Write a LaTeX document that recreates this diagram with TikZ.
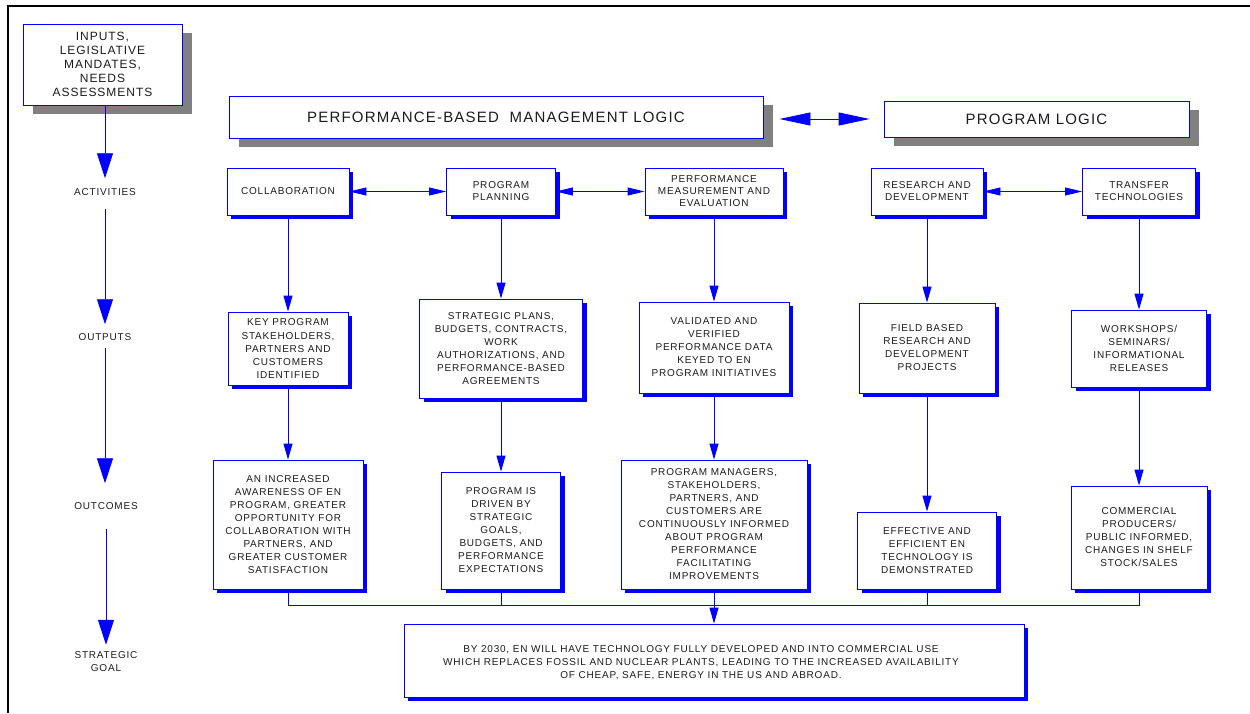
\documentclass[tikz,border=0pt]{standalone}
\usepackage{fontspec}
\setmainfont{Liberation Sans}
\newfontfamily\trackedsans[LetterSpace=8]{Liberation Sans}
\usetikzlibrary{arrows.meta,shadows}
\definecolor{inkgray}{RGB}{28,28,28}
\definecolor{shadowgray}{RGB}{128,128,128}
\newcommand\labfont{\trackedsans\fontsize{10}{13}\selectfont}
\newcommand\actfont{\trackedsans\fontsize{10}{12}\selectfont}
\newcommand\inputfont{\trackedsans\fontsize{12}{14}\selectfont}
\newcommand\headfont{\trackedsans\fontsize{15}{18}\selectfont}

\begin{document}
\begin{tikzpicture}[x=1pt,y=-1pt,
  plainbox/.style={draw=blue, line width=0.9pt, fill=white, inner sep=0pt,
    align=center, text=inkgray, font=\labfont},
  bluebox/.style={plainbox, general shadow={fill=blue, shadow xshift=4pt, shadow yshift=-4pt}},
  graybox/.style={plainbox, general shadow={fill=shadowgray, shadow xshift=10pt, shadow yshift=-8.5pt}},
  actbox/.style={bluebox, font=\actfont, minimum height=47pt},
  sidelabel/.style={inner sep=0pt, align=center, text=inkgray, font=\labfont},
  conn/.style={draw=blue, line width=0.9pt},
  flow/.style={conn, -{Triangle[length=16pt,width=9pt]}},
  pair/.style={conn, {Triangle[length=17pt,width=8pt]}-{Triangle[length=17pt,width=8pt]}},
  stage/.style={conn, -{Triangle[length=25pt,width=16pt]}},
  link/.style={conn, {Triangle[length=31pt,width=13pt]}-{Triangle[length=31pt,width=13pt]}},
]
\useasboundingbox (0,0) rectangle (1250,713);

% outer frame
\draw[line width=2pt, black] (8,713) -- (8,6) -- (1250,6);

% left column: stages
\node[graybox, font=\inputfont, minimum width=159pt, minimum height=81pt] (inputs) at (102.5,64.5)
  {INPUTS,\\LEGISLATIVE\\MANDATES,\\NEEDS\\ASSESSMENTS};
\node[sidelabel] (act) at (105,192) {ACTIVITIES};
\node[sidelabel] (outp) at (105,337) {OUTPUTS};
\node[sidelabel] (outc) at (106,506) {OUTCOMES};
\node[sidelabel] (strat) at (106,662) {STRATEGIC\\GOAL};

\draw[stage, shorten >=10pt] (act |- inputs.south) -- (act.north);
\draw[stage, shorten <=13pt, shorten >=9pt] (act.south) -- (outp.north);
\draw[stage, shorten <=7pt, shorten >=19pt] (outp.south) -- (outp.south |- outc.north);
\draw[stage, shorten <=19pt, shorten >=7pt] (outc.south) -- (strat.north);

% headers
\node[graybox, font=\headfont, minimum width=534pt, minimum height=42pt] (pbml) at (496,117)
  {PERFORMANCE-BASED\ \ MANAGEMENT LOGIC};
\node[graybox, font=\headfont, minimum width=305pt, minimum height=36pt] (pl) at (1036.5,119)
  {PROGRAM LOGIC};
\draw[link, shorten <=16pt, shorten >=14pt] (pbml.east |- pl.west) -- (pl.west);

% activities
\node[actbox, minimum width=122pt] (collab) at (288,191.5) {COLLABORATION};
\node[actbox, minimum width=109pt] (pp) at (501,191.5) {PROGRAM\\PLANNING};
\node[actbox, minimum width=138pt] (pme) at (714,191.5) {PERFORMANCE\\MEASUREMENT AND\\EVALUATION};
\node[actbox, minimum width=112pt] (rd) at (927,191.5) {RESEARCH AND\\DEVELOPMENT};
\node[actbox, minimum width=113pt] (tt) at (1139,191.5) {TRANSFER\\TECHNOLOGIES};

\draw[pair] (collab.east) -- (pp.west);
\draw[pair] (pp.east) -- (pme.west);
\draw[pair] (rd.east) -- (tt.west);

% outputs
\node[bluebox, minimum width=120pt, minimum height=73pt] (key) at (288,348.5)
  {KEY PROGRAM\\STAKEHOLDERS,\\PARTNERS AND\\CUSTOMERS\\IDENTIFIED};
\node[bluebox, minimum width=163pt, minimum height=99pt] (sp) at (501,348.5)
  {STRATEGIC PLANS,\\BUDGETS, CONTRACTS,\\WORK\\AUTHORIZATIONS, AND\\PERFORMANCE-BASED\\AGREEMENTS};
\node[bluebox, minimum width=150pt, minimum height=91pt] (val) at (714,347.5)
  {VALIDATED AND\\VERIFIED\\PERFORMANCE DATA\\KEYED TO EN\\PROGRAM INITIATIVES};
\node[bluebox, minimum width=136pt, minimum height=90pt] (field) at (927,348)
  {FIELD BASED\\RESEARCH AND\\DEVELOPMENT\\PROJECTS};
\node[bluebox, minimum width=135pt, minimum height=77pt] (work) at (1139,348.5)
  {WORKSHOPS/\\SEMINARS/\\INFORMATIONAL\\RELEASES};

\draw[flow] (collab.south) -- (key.north);
\draw[flow] (pp.south) -- (sp.north);
\draw[flow] (pme.south) -- (val.north);
\draw[flow] (rd.south) -- (field.north);
\draw[flow] (tt.south) -- (work.north);

% outcomes
\node[bluebox, minimum width=150pt, minimum height=129pt] (aware) at (288,524.5)
  {AN INCREASED\\AWARENESS OF EN\\PROGRAM, GREATER\\OPPORTUNITY FOR\\COLLABORATION WITH\\PARTNERS, AND\\GREATER CUSTOMER\\SATISFACTION};
\node[bluebox, minimum width=119pt, minimum height=117pt] (driven) at (501,530.5)
  {PROGRAM IS\\DRIVEN BY\\STRATEGIC\\GOALS,\\BUDGETS, AND\\PERFORMANCE\\EXPECTATIONS};
\node[bluebox, minimum width=186pt, minimum height=129pt] (managers) at (714,524.5)
  {PROGRAM MANAGERS,\\STAKEHOLDERS,\\PARTNERS, AND\\CUSTOMERS ARE\\CONTINUOUSLY INFORMED\\ABOUT PROGRAM\\PERFORMANCE\\FACILITATING\\IMPROVEMENTS};
\node[bluebox, minimum width=139pt, minimum height=77pt] (effective) at (927,550.5)
  {EFFECTIVE AND\\EFFICIENT EN\\TECHNOLOGY IS\\DEMONSTRATED};
\node[bluebox, minimum width=136pt, minimum height=103pt] (commercial) at (1139,537.5)
  {COMMERCIAL\\PRODUCERS/\\PUBLIC INFORMED,\\CHANGES IN SHELF\\STOCK/SALES};

\draw[flow] (key.south) -- (aware.north);
\draw[flow] (sp.south) -- (driven.north);
\draw[flow] (val.south) -- (managers.north);
\draw[flow] (field.south) -- (effective.north);
\draw[flow] (work.south) -- (commercial.north);

% strategic goal
\node[bluebox, minimum width=620pt, minimum height=73pt] (goal) at (714,660.5) {};
\node[sidelabel] (goaltext) at (701,663)
  {BY 2030, EN WILL HAVE TECHNOLOGY FULLY DEVELOPED AND INTO COMMERCIAL USE\\
   WHICH REPLACES FOSSIL AND NUCLEAR PLANTS, LEADING TO THE INCREASED AVAILABILITY\\
   OF CHEAP, SAFE, ENERGY IN THE US AND ABROAD.};

\coordinate (bus) at (714,605);
\draw[conn] (aware.south) |- (bus);
\draw[conn] (driven.south) |- (bus);
\draw[conn] (effective.south) |- (bus);
\draw[conn] (commercial.south) |- (bus);
\draw[flow] (managers.south) -- (goal.north);
\end{tikzpicture}
\end{document}
